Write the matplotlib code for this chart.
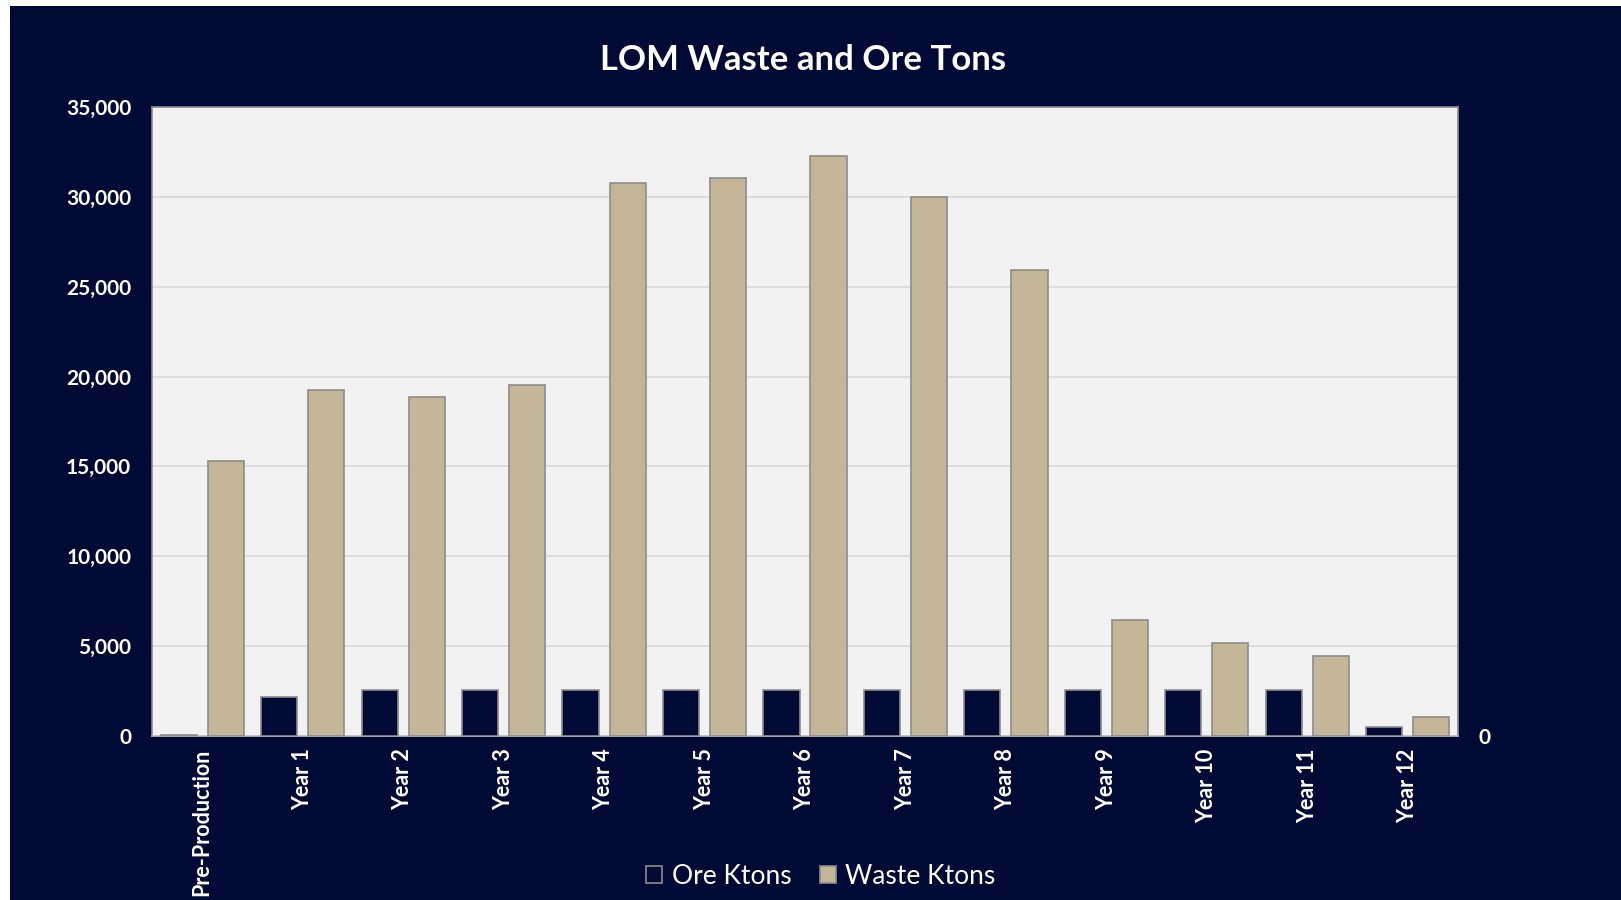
import matplotlib.pyplot as plt
import matplotlib.patches as mpatches
import numpy as np

categories = ["Pre-Production", "Year 1", "Year 2", "Year 3", "Year 4", "Year 5", "Year 6",
              "Year 7", "Year 8", "Year 9", "Year 10", "Year 11", "Year 12"]
ore_ktons = [70, 2170, 2550, 2550, 2550, 2550, 2550, 2550, 2550, 2550, 2550, 2550, 520]
waste_ktons = [15300, 19250, 18870, 19520, 30790, 31060, 32270, 29970, 25940, 6480, 5200, 4450, 1080]

navy = "#000a35"
tan = "#c4b797"
edge = "#8c8c8c"

plt.rcParams['font.family'] = ['Lato', 'DejaVu Sans']

fig = plt.figure(figsize=(16.21, 9), dpi=100, facecolor="white")
# dark panel (thin white strip left and top as in the reference)
fig.patches.append(mpatches.Rectangle((10 / 1621, 0), 1, 1 - 6 / 900, transform=fig.transFigure,
                                      facecolor=navy, edgecolor="none", zorder=-10))

ax = fig.add_axes([152 / 1621, 1 - 736 / 900, (1458 - 152) / 1621, (736 - 107) / 900])
ax.set_facecolor("#f2f2f2")

x = np.arange(len(categories))
w = 0.36
off = 0.234
ax.bar(x - off, ore_ktons, w, color=navy, edgecolor=edge, linewidth=1.2, label="Ore Ktons", zorder=3)
ax.bar(x + off, waste_ktons, w, color=tan, edgecolor=edge, linewidth=1.2, label="Waste Ktons", zorder=3)

ax.set_xlim(-0.5, len(categories) - 0.5)
ax.set_ylim(0, 35000)
ax.set_yticks(np.arange(0, 35001, 5000))
ax.set_yticklabels([f"{v:,}" for v in range(0, 35001, 5000)])
ax.yaxis.grid(True, color="#d9d9d9", linewidth=1.2, zorder=0)
ax.set_axisbelow(True)
ax.set_xticks(x)
ax.set_xticklabels(categories, rotation=90, va="top", ha="center")
ax.tick_params(axis="both", length=0, colors="white")
ax.tick_params(axis="x", pad=9, labelsize=15.5)
ax.tick_params(axis="y", pad=15, labelsize=15)
for lbl in ax.get_xticklabels() + ax.get_yticklabels():
    lbl.set_fontweight("bold")
for s in ax.spines.values():
    s.set_color(edge)
    s.set_linewidth(1.2)
ax.spines["bottom"].set_color("#bfbfbf")

ax2 = ax.twinx()
ax2.set_ylim(0, 1)
ax2.set_yticks([0])
ax2.set_yticklabels(["0"])
ax2.tick_params(axis="y", length=0, colors="white", labelsize=15, pad=15)
for lbl in ax2.get_yticklabels():
    lbl.set_fontweight("bold")
for s in ax2.spines.values():
    s.set_visible(False)

fig.text(803 / 1621, 1 - 60 / 900, "LOM Waste and Ore Tons", color="white", fontsize=25,
         fontweight="bold", ha="center", va="center")

leg = fig.legend(loc="center", bbox_to_anchor=(821 / 1621, 1 - 876 / 900), ncol=2, frameon=False,
                 fontsize=19, labelcolor="white", handlelength=0.6, handleheight=0.6,
                 handletextpad=0.35, columnspacing=1.1)

fig.savefig("out.png", dpi=100, facecolor=fig.get_facecolor())
